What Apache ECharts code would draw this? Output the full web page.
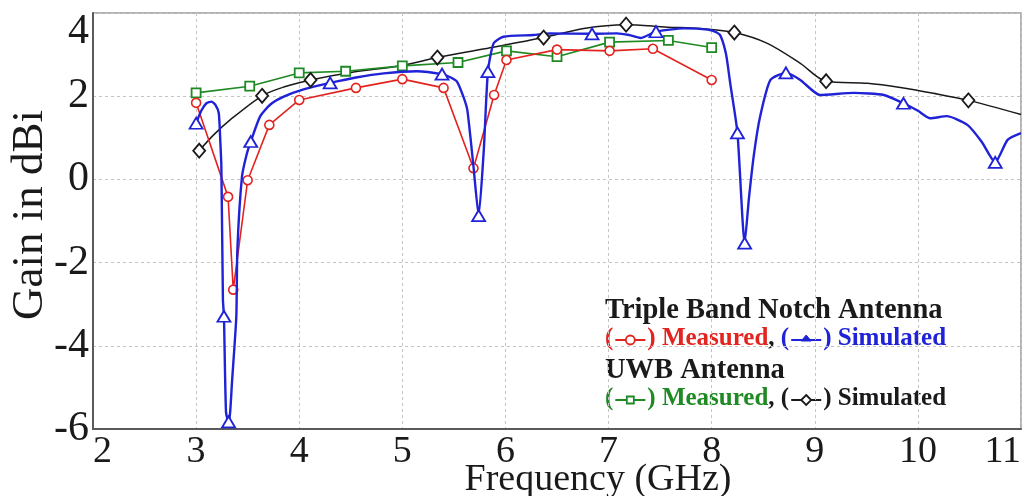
<!DOCTYPE html>
<html><head><meta charset="utf-8">
<script src="https://cdn.jsdelivr.net/npm/echarts@6/dist/echarts.min.js"></script>
<style>html,body{margin:0;padding:0;background:#fff}#c{width:1029px;height:496px}</style>
</head><body><div id="c"></div>
<script>
// ---- data ----
const xTicks = [2,3,4,5,6,7,8,9,10,11];
const yTicks = [-6,-4,-2,0,2,4];

// Triple band notch antenna, measured (red circles)
const redMeasX = [3.00,3.31,3.36,3.50,3.71,4.00,4.55,5.00,5.40,5.69,5.89,6.01,6.50,7.01,7.43,8.00];
const redMeasY = [1.84,-0.42,-2.65,-0.02,1.31,1.91,2.20,2.41,2.20,0.27,2.03,2.87,3.12,3.09,3.14,2.39];

// UWB antenna, measured (green squares)
const greenMeasX = [3.00,3.52,4.00,4.45,5.00,5.54,6.01,6.50,7.01,7.58,8.00];
const greenMeasY = [2.08,2.24,2.56,2.60,2.73,2.81,3.09,2.95,3.30,3.34,3.17];

// UWB antenna, simulated (black curve + diamonds)
const blackSimX = [3.03,3.17,3.33,3.64,3.85,4.11,4.50,5.00,5.34,5.80,6.37,6.76,7.17,7.57,7.89,8.22,8.54,8.86,9.11,9.51,9.83,10.15,10.49,11.00];
const blackSimY = [0.69,1.07,1.43,2.01,2.22,2.39,2.57,2.74,2.93,3.14,3.41,3.63,3.72,3.66,3.63,3.53,3.27,2.79,2.36,2.31,2.21,2.07,1.90,1.56];
const blackMarkX = [3.03,3.64,4.11,5.34,6.37,7.17,8.22,9.11,10.49];
const blackMarkY = [0.69,2.01,2.39,2.93,3.41,3.72,3.53,2.36,1.90];

// Triple band notch antenna, simulated (blue curve + triangles)
const blueSimX = [3.00,3.05,3.10,3.15,3.19,3.22,3.235,3.245,3.26,3.27,3.29,3.315,3.33,3.348,3.39,3.40,3.445,3.49,3.53,3.62,3.72,3.85,4.05,4.30,4.55,4.82,5.14,5.385,5.47,5.53,5.59,5.63,5.69,5.74,5.79,5.83,5.885,5.98,6.27,6.43,6.84,7.08,7.20,7.31,7.46,7.73,7.96,8.05,8.09,8.14,8.18,8.25,8.32,8.36,8.41,8.47,8.57,8.72,8.86,9.05,9.38,9.67,9.86,10.00,10.12,10.28,10.48,10.62,10.75,10.87,11.00];
const blueSimY = [1.35,1.65,1.83,1.87,1.78,1.59,0.90,0.31,-2.89,-3.29,-5.60,-5.83,-5.60,-4.88,-3.29,-1.69,0.07,0.60,0.91,1.51,1.80,1.99,2.17,2.32,2.45,2.55,2.60,2.53,2.45,2.35,2.00,1.67,0.31,-0.87,0.71,2.59,3.27,3.43,3.47,3.51,3.50,3.51,3.47,3.40,3.55,3.63,3.60,3.53,3.43,3.00,2.31,1.12,-1.53,-0.49,0.60,1.51,2.39,2.56,2.39,2.03,2.08,2.03,1.83,1.65,1.47,1.52,1.31,0.90,0.41,0.95,1.11];
const blueMarkX = [3.00,3.27,3.315,3.53,4.30,5.385,5.74,5.83,6.84,7.46,8.25,8.32,8.72,9.86,10.75];
const blueMarkY = [1.35,-3.29,-5.83,0.91,2.32,2.53,-0.87,2.59,3.50,3.55,1.12,-1.53,2.56,1.83,0.41];

const xName = 'Frequency (GHz)';
const yName = 'Gain in dBi';
const legendTitle1 = 'Triple Band Notch Antenna';
const legendTitle2 = 'UWB Antenna';
const measuredLabel = 'Measured';
const simulatedLabel = 'Simulated';

// ---- styling ----
const RED = '#e3231f', BLUE = '#1f22d6', GREEN = '#1f8a24', BLACK = '#1a1a1a';
const FONT = '"Liberation Serif", "DejaVu Serif", serif';
const zip = (xs, ys) => xs.map((x, i) => [x, ys[i]]);

const chart = echarts.init(document.getElementById('c'), null, {renderer: 'canvas'});

function hollow(color, w) {
  return {color: '#ffffff', borderColor: color, borderWidth: w, opacity: 1};
}

// ---- legend laid out with measured text ----
const mctx = document.createElement('canvas').getContext('2d');
function tw(t, fs) { mctx.font = 'bold ' + fs + 'px ' + FONT; return mctx.measureText(t).width; }
const graphics = [];
function addText(x, y, t, color, fs) {
  graphics.push({type: 'text', x: x, y: y, silent: true,
    style: {text: t, fill: color, font: 'bold ' + fs + 'px ' + FONT, textVerticalAlign: 'middle', textAlign: 'left'}});
  return x + tw(t, fs);
}
function addSym(x, y, kind, color) {
  const w = 34, cx = x + w / 2;
  graphics.push({type: 'line', silent: true, shape: {x1: x + 2, y1: y, x2: x + w - 2, y2: y}, style: {stroke: color, lineWidth: 2}});
  if (kind === 'circle') graphics.push({type: 'circle', silent: true, shape: {cx: cx, cy: y, r: 4.5}, style: {fill: '#fff', stroke: color, lineWidth: 1.8}});
  if (kind === 'rect') graphics.push({type: 'rect', silent: true, shape: {x: cx - 3.5, y: y - 3.5, width: 7, height: 7}, style: {fill: '#fff', stroke: color, lineWidth: 1.8}});
  if (kind === 'tri') graphics.push({type: 'polygon', silent: true, shape: {points: [[cx, y - 5], [cx - 5, y + 1], [cx + 5, y + 1]]}, style: {fill: color, stroke: color, lineWidth: 1}});
  if (kind === 'diamond') graphics.push({type: 'polygon', silent: true, shape: {points: [[cx, y - 5], [cx + 5, y], [cx, y + 5], [cx - 5, y]]}, style: {fill: '#fff', stroke: color, lineWidth: 1.8}});
  return x + w;
}
const LX = 605, TFS = 28.5, SFS = 25;
addText(LX, 311, legendTitle1, BLACK, TFS);
(function () {
  const y = 339; let x = LX;
  x = addText(x, y, '(', RED, SFS); x = addSym(x, y + 1, 'circle', RED); x = addText(x, y, ') ' + measuredLabel, RED, SFS);
  x = addText(x, y, ', ', BLACK, SFS);
  x = addText(x, y, '(', BLUE, SFS); x = addSym(x, y + 1, 'tri', BLUE); x = addText(x, y, ') ' + simulatedLabel, BLUE, SFS);
})();
addText(LX, 371, legendTitle2, BLACK, TFS);
(function () {
  const y = 399; let x = LX;
  x = addText(x, y, '(', GREEN, SFS); x = addSym(x, y + 1, 'rect', GREEN); x = addText(x, y, ') ' + measuredLabel, GREEN, SFS);
  x = addText(x, y, ', ', BLACK, SFS);
  x = addText(x, y, '(', BLACK, SFS); x = addSym(x, y + 1, 'diamond', BLACK); x = addText(x, y, ') ' + simulatedLabel, BLACK, SFS);
})();
// x axis name (sits right of centre in the reference)
graphics.push({type: 'text', x: 598, y: 480, silent: true,
  style: {text: xName, fill: BLACK, font: '38px ' + FONT, textAlign: 'center', textVerticalAlign: 'middle'}});
// y axis name, rotated
graphics.push({type: 'text', x: 30, y: 215, rotation: Math.PI / 2, silent: true,
  style: {text: yName, fill: BLACK, font: '45px ' + FONT, textAlign: 'center', textVerticalAlign: 'middle'}});

const option = {
  animation: false,
  backgroundColor: '#ffffff',
  grid: {left: 93, right: 8, top: 13, bottom: 67, containLabel: false, outerBoundsMode: 'none',
    show: true, borderColor: '#9a9a9a', borderWidth: 1.5, backgroundColor: 'transparent'},
  xAxis: {
    type: 'value', min: xTicks[0], max: xTicks[xTicks.length - 1], interval: 1,
    axisLine: {show: true, onZero: false, lineStyle: {color: '#5a5a5a', width: 2}},
    axisTick: {show: false},
    axisLabel: {fontFamily: FONT, fontSize: 38, color: BLACK, margin: 4, alignMinLabel: 'left', alignMaxLabel: 'right', hideOverlap: false},
    splitLine: {show: true, lineStyle: {color: '#c4c4c4', width: 1, type: [3, 3]}}
  },
  yAxis: {
    type: 'value', min: yTicks[0], max: yTicks[yTicks.length - 1], interval: 2,
    axisLine: {show: true, onZero: false, lineStyle: {color: '#5a5a5a', width: 2}},
    axisTick: {show: false},
    axisLabel: {fontFamily: FONT, fontSize: 42, lineHeight: 38, color: BLACK, margin: 4, verticalAlignMaxLabel: 'top', hideOverlap: false},
    splitLine: {show: true, lineStyle: {color: '#c4c4c4', width: 1, type: [3, 3]}}
  },
  graphic: graphics,
  series: [
    {name: 'UWB Simulated', type: 'line', data: zip(blackSimX, blackSimY), smooth: 0.3, showSymbol: false, symbol: 'none',
      lineStyle: {color: BLACK, width: 1.5}, z: 2},
    {name: 'UWB Simulated markers', type: 'scatter', data: zip(blackMarkX, blackMarkY), symbol: 'diamond', symbolSize: [12, 14],
      itemStyle: hollow(BLACK, 1.8), z: 6},
    {name: 'UWB Measured', type: 'line', data: zip(greenMeasX, greenMeasY), symbol: 'rect', symbolSize: 9,
      lineStyle: {color: GREEN, width: 1.6}, itemStyle: hollow(GREEN, 1.8), z: 3},
    {name: 'Notch Measured', type: 'line', data: zip(redMeasX, redMeasY), symbol: 'circle', symbolSize: 9,
      lineStyle: {color: RED, width: 1.6}, itemStyle: hollow(RED, 1.6), z: 4},
    {name: 'Notch Simulated', type: 'line', data: zip(blueSimX, blueSimY), smooth: 0.2, showSymbol: false, symbol: 'none',
      lineStyle: {color: BLUE, width: 2.4}, z: 5},
    {name: 'Notch Simulated markers', type: 'scatter', data: zip(blueMarkX, blueMarkY), symbol: 'triangle', symbolSize: [13, 11],
      itemStyle: hollow(BLUE, 1.8), z: 7}
  ]
};
chart.setOption(option);
</script></body></html>
